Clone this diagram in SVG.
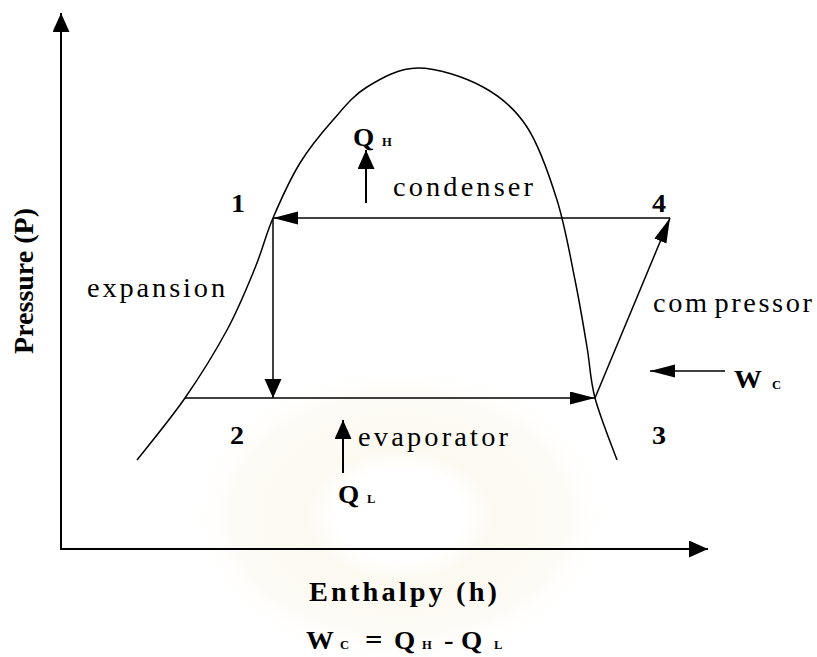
<svg xmlns="http://www.w3.org/2000/svg" width="817" height="657" viewBox="0 0 817 657">
  <defs>
    <style>
      .ln { fill: none; stroke: #000; stroke-width: 1.5; }
      .ax { fill: none; stroke: #000; stroke-width: 2; }
      .lbl { font-family: "Liberation Serif", "Times New Roman", serif; font-size: 27px; fill: #000; }
      .b { font-family: "Liberation Serif", "Times New Roman", serif; font-weight: bold; fill: #000; }
    </style>
    <marker id="big" markerUnits="userSpaceOnUse" markerWidth="20" markerHeight="18" refX="19" refY="8.5" orient="auto">
      <path d="M0,0 L19,8.5 L0,17 z" fill="#000"/>
    </marker>
    <marker id="long" markerUnits="userSpaceOnUse" markerWidth="26" markerHeight="14" refX="25" refY="6.5" orient="auto">
      <path d="M0,0 L25,6.5 L0,13 z" fill="#000"/>
    </marker>
    <radialGradient id="wm" cx="0.5" cy="0.5" r="0.5">
      <stop offset="0" stop-color="#ffffff"/>
      <stop offset="0.3" stop-color="#ffffff"/>
      <stop offset="0.45" stop-color="#fcf9f0"/>
      <stop offset="0.8" stop-color="#fdfbf6"/>
      <stop offset="1" stop-color="#ffffff" stop-opacity="0"/>
    </radialGradient>
  </defs>
  <rect width="817" height="657" fill="#fff"/>
  <ellipse id="watermark" cx="400" cy="515" rx="210" ry="150" fill="url(#wm)"/>

  <g id="axes">
    <line class="ax" x1="61" y1="549" x2="61" y2="13" marker-end="url(#big)"/>
    <line class="ax" x1="60" y1="549" x2="708" y2="549" marker-end="url(#big)"/>
  </g>

  <g id="dome">
    <path class="ln" d="M137,460 C145,449.7 170,419.7 185,398 C200,376.3 215.3,351.7 227,330 C238.7,308.3 247.3,286.7 255,268 C262.7,249.3 265.5,235.5 273,218 C280.5,200.5 290,179.3 300,163 C310,146.7 321.8,132.7 333,120 C344.2,107.3 352.8,95.7 367,87 C381.2,78.3 398.7,68 418,68 C437.3,68 464.8,77.2 483,87 C501.2,96.8 514.7,108.2 527,127 C539.3,145.8 549,174.5 557,200 C565,225.5 570,255.5 575,280 C580,304.5 583.7,327.3 587,347 C590.3,366.7 590,379.2 595,398 C600,416.8 613.3,449.7 617,460"/>
  </g>

  <g id="connectors">
    <line class="ln" x1="670" y1="218" x2="273" y2="218" marker-end="url(#long)"/>
    <line class="ln" x1="273" y1="218" x2="273" y2="398" marker-end="url(#big)"/>
    <line class="ln" x1="185" y1="398" x2="595" y2="398" marker-end="url(#long)"/>
    <line class="ln" x1="595" y1="398" x2="670" y2="218" marker-end="url(#long)"/>
    <line class="ax" x1="366" y1="203" x2="366" y2="150" marker-end="url(#big)"/>
    <line class="ax" x1="343" y1="473" x2="343" y2="420" marker-end="url(#big)"/>
    <line class="ln" x1="725" y1="371" x2="650" y2="371" marker-end="url(#long)"/>
  </g>

  <g id="node-1"><text class="b" font-size="26" transform="translate(231,212) scale(1.08,1)">1</text></g>
  <g id="node-2"><text class="b" font-size="26" transform="translate(230,444) scale(1.08,1)">2</text></g>
  <g id="node-3"><text class="b" font-size="26" transform="translate(652,444) scale(1.08,1)">3</text></g>
  <g id="node-4"><text class="b" font-size="26" transform="translate(652,212) scale(1.08,1)">4</text></g>

  <g id="label-condenser"><text class="lbl" letter-spacing="2.99" transform="translate(393,196) scale(1.05,1)">condenser</text></g>
  <g id="label-expansion"><text class="lbl" letter-spacing="2.76" transform="translate(87,297) scale(1.05,1)">expansion</text></g>
  <g id="label-compressor"><text class="lbl" letter-spacing="2.46" transform="translate(653,312) scale(1.05,1)">com<tspan dx="4.8">pressor</tspan></text></g>
  <g id="label-evaporator"><text class="lbl" letter-spacing="3.05" transform="translate(358,446) scale(1.05,1)">evaporator</text></g>

  <g id="label-QH">
    <text class="b" font-size="26" transform="translate(353,146) scale(1.05,1)">Q</text>
    <text class="b" font-size="12" transform="translate(382,146) scale(1.05,1)">H</text>
  </g>
  <g id="label-QL">
    <text class="b" font-size="26" transform="translate(338,503) scale(1.05,1)">Q</text>
    <text class="b" font-size="12" transform="translate(367,503) scale(1.05,1)">L</text>
  </g>
  <g id="label-WC">
    <text class="b" font-size="26" transform="translate(734,388) scale(1.07,1)">W</text>
    <text class="b" font-size="12" transform="translate(772,389) scale(1.05,1)">C</text>
  </g>

  <g id="axis-y-label">
    <text class="b" font-size="28" text-anchor="middle" transform="translate(33,281) rotate(-90)">Pressure (P)</text>
  </g>
  <g id="axis-x-label">
    <text class="b" font-size="27" letter-spacing="2.98" transform="translate(309,601) scale(1.05,1)">Enthalpy (h)</text>
  </g>

  <g id="equation">
    <text class="b" font-size="26" transform="translate(306,649) scale(1.07,1)">W</text>
    <text class="b" font-size="12" transform="translate(340,649) scale(1.05,1)">C</text>
    <text class="b" font-size="28" transform="translate(365,649) scale(1.1,1)">=</text>
    <text class="b" font-size="26" transform="translate(394,649) scale(1.05,1)">Q</text>
    <text class="b" font-size="12" transform="translate(422,649) scale(1.05,1)">H</text>
    <text class="b" font-size="26" transform="translate(444,649) scale(1.1,1)">-</text>
    <text class="b" font-size="26" transform="translate(461,649) scale(1.05,1)">Q</text>
    <text class="b" font-size="12" transform="translate(494,649) scale(1.05,1)">L</text>
  </g>
</svg>
